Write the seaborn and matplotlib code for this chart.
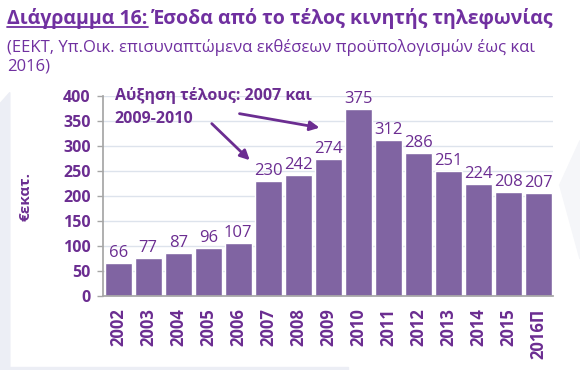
import matplotlib
matplotlib.use("Agg")
import matplotlib.pyplot as plt
from matplotlib.patches import Polygon
import seaborn as sns
import pandas as pd

years = ['2002', '2003', '2004', '2005', '2006', '2007', '2008', '2009',
         '2010', '2011', '2012', '2013', '2014', '2015', '2016Π']
revenue = [66, 77, 87, 96, 107, 230, 242, 274, 375, 312, 286, 251, 224, 208, 207]

sns.set_theme(style='whitegrid')
plt.rcParams['font.family'] = ['Open Sans', 'DejaVu Sans']

bar_col = '#8064A2'
txt_col = '#6B2D91'

df = pd.DataFrame({'year': years, 'value': revenue})

fig = plt.figure(figsize=(5.8, 3.7), dpi=100)

# faint watermark shapes in the background
fig.add_artist(Polygon([[0, 0], [0.017, 0], [0.017, 0.75], [0, 0.72]],
                       closed=True, transform=fig.transFigure,
                       color='#ECEEF5', zorder=-5))
fig.add_artist(Polygon([[0.965, 0.5], [1, 0.3], [1, 0.62]],
                       closed=True, transform=fig.transFigure,
                       color='#F5F6F9', zorder=-5))
fig.add_artist(Polygon([[0.017, 0.0], [0.6, 0.0], [0.6, 0.008], [0.017, 0.008]],
                       closed=True, transform=fig.transFigure,
                       color='#ECEEF5', zorder=-5))

ax = fig.add_axes([0.178, 0.2, 0.776, 0.54])
sns.barplot(data=df, x='year', y='value', color=bar_col, saturation=1,
            width=0.9, ax=ax)

for i, v in enumerate(revenue):
    ax.text(i, v + 4, str(v), ha='center', va='bottom', fontsize=12,
            color=txt_col)

ax.set_ylim(0, 400)
ax.set_yticks(range(0, 401, 50))
ax.set_xlim(-0.5, len(years) - 0.5)
ax.set_xlabel('')
ax.set_ylabel('€εκατ.', fontsize=11, fontweight='bold', color=txt_col, labelpad=22)
ax.tick_params(axis='y', labelsize=11.5, labelcolor=txt_col, length=4,
               color='#A6A6A6', width=1, left=True, pad=5)
ax.tick_params(axis='x', labelsize=12, labelcolor=txt_col, length=0, rotation=90, pad=9)
for lab in ax.get_xticklabels() + ax.get_yticklabels():
    lab.set_fontweight('bold')
ax.grid(axis='x', visible=False)
ax.grid(axis='y', color='#DDE3EC', linewidth=1)
ax.set_facecolor('none')
for s in ['top', 'right']:
    ax.spines[s].set_visible(False)
ax.spines['left'].set_color('#A6A6A6')
ax.spines['bottom'].set_color('#A6A6A6')

# annotation
ax.text(-0.12, 418, 'Αύξηση τέλους: 2007 και\n2009-2010', fontsize=11.5,
        fontweight='bold', color=txt_col, va='top', ha='left', linespacing=1.55)
ax.annotate('', xy=(4.45, 268), xytext=(3.05, 349),
            arrowprops=dict(arrowstyle='-|>', color=txt_col, lw=2, mutation_scale=14))
ax.annotate('', xy=(6.8, 336), xytext=(3.95, 366),
            arrowprops=dict(arrowstyle='-|>', color=txt_col, lw=2, mutation_scale=14))

# title
fig.text(0.012, 0.935, 'Διάγραμμα 16:', fontsize=14, fontweight='bold',
         color='#7030A0')
fig.text(0.262, 0.935, 'Έσοδα από το τέλος κινητής τηλεφωνίας', fontsize=14,
         fontweight='bold', color='#7030A0')
fig.add_artist(plt.Line2D([0.012, 0.255], [0.927, 0.927], color='#7030A0', lw=1.3))
fig.text(0.012, 0.81, '(ΕΕΚΤ, Υπ.Οικ. επισυναπτώμενα εκθέσεων προϋπολογισμών έως και\n2016)',
         fontsize=12, color='#7030A0', linespacing=1.2)

fig.savefig('out.png', dpi=100, facecolor='white')
